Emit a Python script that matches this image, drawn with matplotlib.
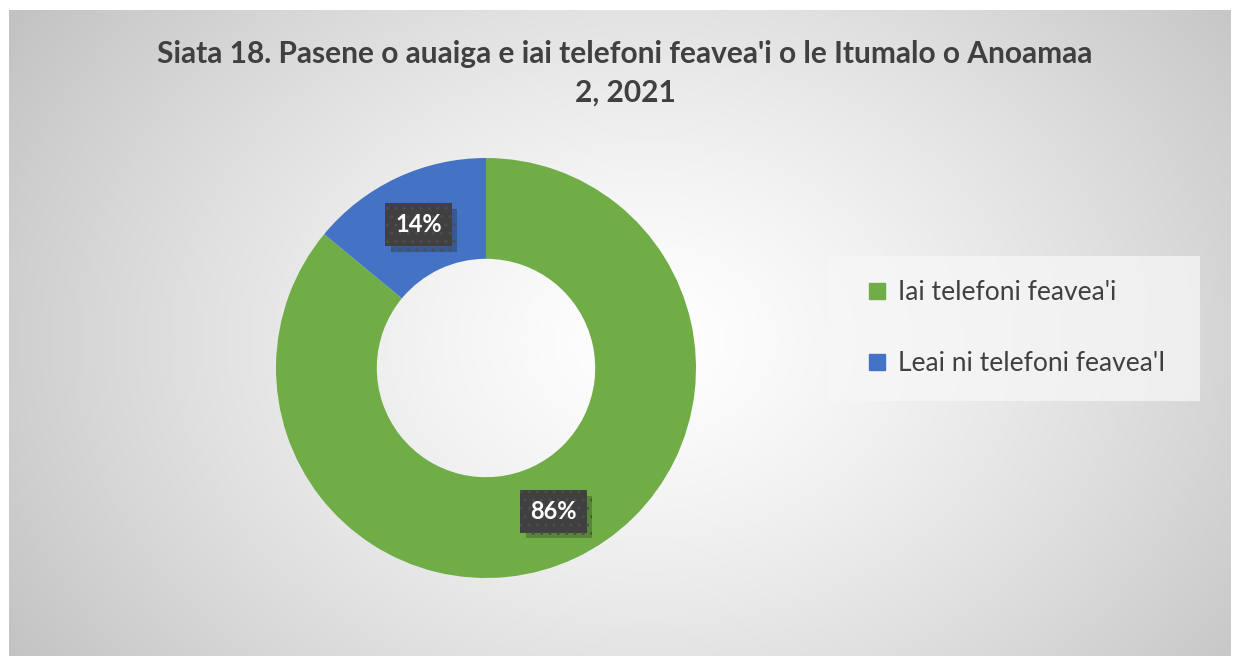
import numpy as np
import matplotlib.pyplot as plt
from matplotlib.patches import Rectangle
from matplotlib.lines import Line2D
import matplotlib.patheffects as pe

plt.rcParams['font.family'] = ['Lato', 'DejaVu Sans']

title = "Siata 18. Pasene o auaiga e iai telefoni feavea'i o le Itumalo o Anoamaa\n2, 2021"
labels = ["Iai telefoni feavea'i", "Leai ni telefoni feavea'I"]
values = [86, 14]
colors = ['#70AD47', '#4472C4']

W, H = 1233, 656
fig = plt.figure(figsize=(W / 100, H / 100), dpi=100)
fig.patch.set_facecolor('white')

# chart area with radial grey gradient
x0, y0, x1, y1 = 9, 10, 1231, 656
bg = fig.add_axes([x0 / W, 0, (x1 - x0) / W, (y1 - y0) / H])
bg.set_axis_off()
yy, xx = np.mgrid[0:y1 - y0, 0:x1 - x0]
cx, cy = 640, 330
d = np.sqrt((xx - cx) ** 2 + ((yy - cy) * 1.3) ** 2)
d = d / d.max()
g = 1.0 - 0.24 * np.clip(d, 0, 1) ** 1.3
bg.imshow(np.dstack([g, g, g]), aspect='auto', extent=[0, 1, 0, 1], origin='upper')
bg.set_xlim(0, 1)
bg.set_ylim(0, 1)

fig.text(625 / W, 1 - 73 / H, title, ha='center', va='center', fontsize=21.5,
         fontweight='bold', color='#404040', linespacing=1.45)

# donut
R = 210
ax = fig.add_axes([(486 - R) / W, (H - 368 - R) / H, 2 * R / W, 2 * R / H])
ax.set_axis_off()
wedges, texts, autotexts = ax.pie(values, colors=colors, startangle=90, counterclock=False,
                                  autopct='%1.0f%%', pctdistance=0.755,
                                  wedgeprops=dict(width=0.48, edgecolor='white', linewidth=0))
ax.set_xlim(-1, 1)
ax.set_ylim(-1, 1)
plt.rcParams['hatch.color'] = '#4d4d4d'
plt.rcParams['hatch.linewidth'] = 1.0
for t in autotexts:
    t.set_color('white')
    t.set_fontsize(17)
    t.set_fontweight('bold')
    t.set_bbox(dict(boxstyle='square,pad=0.42', facecolor='#404040', edgecolor='#4d4d4d',
                    linewidth=0, hatch='..',
                    path_effects=[pe.SimplePatchShadow(offset=(4, -4), alpha=0.25), pe.Normal()]))

# legend
fig.patches.append(Rectangle((828 / W, 1 - 401 / H), 372 / W, 145 / H, transform=fig.transFigure,
                             facecolor='#f7f7f7', alpha=0.75, edgecolor='none', zorder=1))
handles = [Line2D([0], [0], marker='s', linestyle='none', markersize=11,
                  markerfacecolor=c, markeredgecolor=c) for c in colors]
leg = fig.legend(handles, labels, loc='center left', bbox_to_anchor=(840 / W, 1 - 328 / H),
                 frameon=False, fontsize=19, labelspacing=1.75, handletextpad=0.3,
                 handlelength=1.0, labelcolor='#404040')

fig.savefig('out.png', dpi=100)
